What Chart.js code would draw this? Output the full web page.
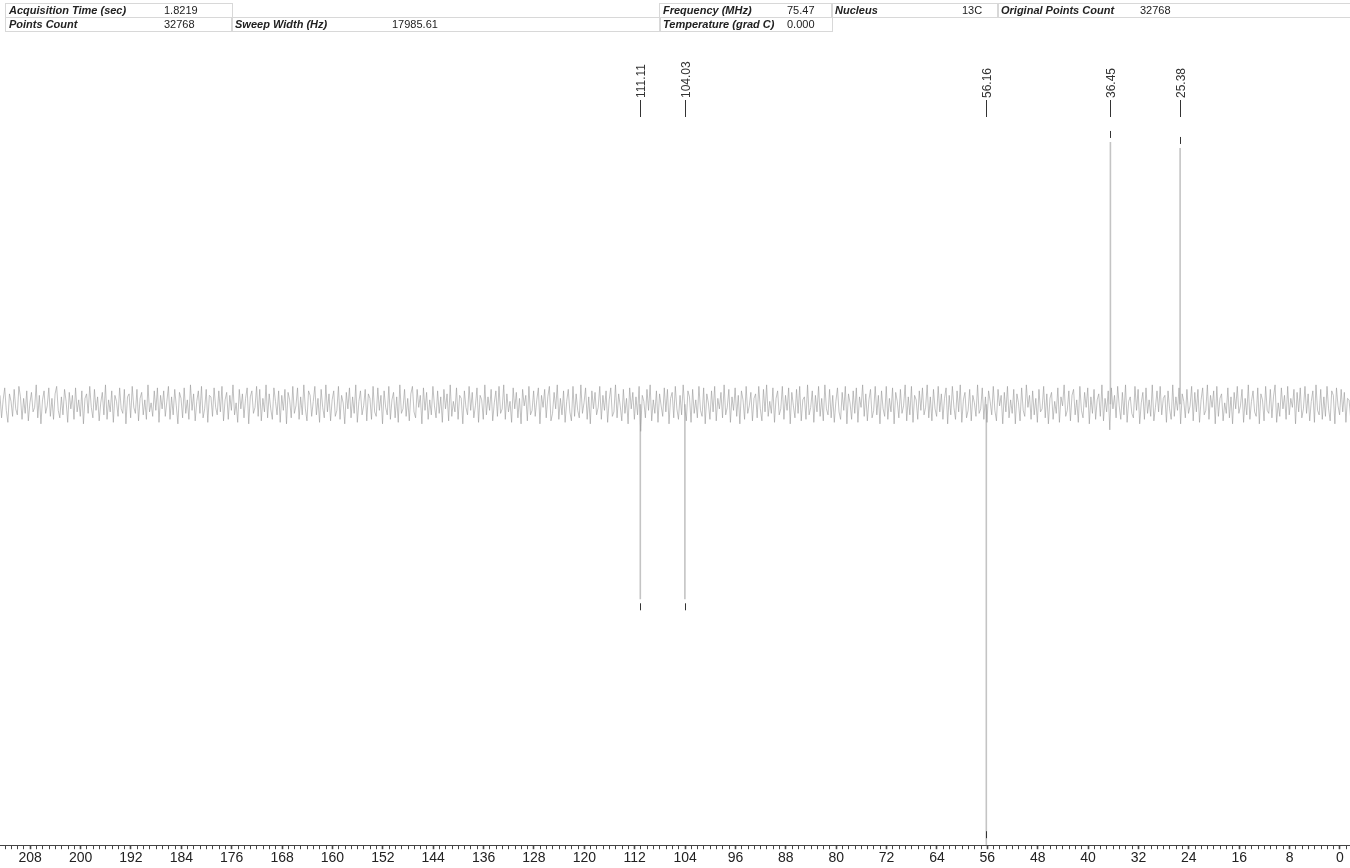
<!DOCTYPE html>
<html>
<head>
<meta charset="utf-8">
<script src="https://cdn.jsdelivr.net/npm/chart.js@4"></script>
<style>
  body { margin: 0; background: #fff; }
  #wrap { position: relative; width: 1350px; height: 868px; }
  .cell { position: absolute; height: 13px; border: 1px solid #d8d8d8; font: 11px "Liberation Sans", Arial, sans-serif; color: #222; }
  .cell b { position: absolute; left: 3px; top: 0; font-style: italic; }
  .cell span { position: absolute; top: 0; }
</style>
</head>
<body>
<div id="wrap">
  <canvas id="myChart" width="1350" height="868"></canvas>
  <div class="cell" style="left:5px;top:3px;width:226px"><b>Acquisition Time (sec)</b><span style="left:158px">1.8219</span></div>
  <div class="cell" style="left:5px;top:17px;width:226px"><b>Points Count</b><span style="left:158px">32768</span></div>
  <div class="cell" style="left:231px;top:17px;width:428px;border-left:1px solid #d8d8d8"><b>Sweep Width (Hz)</b><span style="left:160px">17985.61</span></div>
  <div class="cell" style="left:659px;top:3px;width:172px"><b>Frequency (MHz)</b><span style="left:127px">75.47</span></div>
  <div class="cell" style="left:831px;top:3px;width:166px"><b>Nucleus</b><span style="left:130px">13C</span></div>
  <div class="cell" style="left:997px;top:3px;width:352px"><b>Original Points Count</b><span style="left:142px">32768</span></div>
  <div class="cell" style="left:659px;top:17px;width:172px"><b>Temperature (grad C)</b><span style="left:127px">0.000</span></div>
</div>
<script>
// 13C DEPT-type spectrum, ppm axis runs right to left

const ppmMin = -1.6;
const ppmMax = 212.8;

// peaks: position (ppm), label and height (same units as noise)
const peakPpm = [111.11, 104.03, 56.16, 36.45, 25.38];
const peakLabels = ["111.11", "104.03", "56.16", "36.45", "25.38"];
const peakHeight = [-130, -130, -294, 175, 171];

// baseline noise, read along the spectrum from left (high ppm) to right
const noiseStep = 0.25;
const noise = [
  6,-9,3,11,-4,-12,7,2,-8,10,-3,-7,12,5,-10,4,-6,9,-11,1,
  8,-5,-2,13,-9,6,-13,3,9,-6,-1,11,-8,4,-10,7,12,-4,-9,5,
  -7,10,2,-12,8,-3,6,-10,11,-5,3,-8,9,-13,4,7,-6,12,-2,-9,
  10,-4,5,-11,1,8,-7,13,-10,3,-5,9,-12,6,2,-8,11,-3,-6,10,
  -13,5,7,-9,12,-2,-6,10,-11,4,8,-7,3,-10,13,-5,1,-8,9,-4,
  11,-12,6,-3,9,-8,2,12,-10,5,-7,10,-1,-13,8,4,-9,11,-6,3,
  -10,13,-4,7,-11,2,9,-6,12,-9,-3,10,-12,6,5,-8,11,-2,-7,9,
  -5,12,-11,3,8,-10,6,-4,13,-7,1,-12,10,-3,7,-9,4,11,-13,5,
  9,-6,-2,12,-8,10,-11,4,-5,13,-9,7,-3,-10,11,2,-7,9,-12,6,
  -4,10,-13,8,3,-9,12,-6,-1,11,-10,5,-7,13,-3,-11,9,6,-8,2,
  12,-7,4,-12,10,-2,-9,13,-5,7,-11,3,9,-8,-4,12,-10,6,1,-13,
  8,-3,11,-9,5,-6,13,-12,2,9,-7,-1,10,-11,7,4,-10,12,-5,-8,
  11,-4,6,-13,9,-2,-7,12,-10,3,8,-9,5,-12,13,-6,-3,10,-8,4,
  -11,7,12,-5,-9,10,-2,6,-13,11,-4,8,-10,3,-7,12,-1,-9,9,-6,
  5,-12,10,-3,7,-11,13,-8,2,-5,11,-10,6,4,-13,9,-2,-7,12,-4,
  8,-9,-1,11,-12,6,3,-10,13,-7,5,-4,10,-11,1,9,-8,12,-6,-3,
  13,-10,7,-5,2,-12,11,-3,8,-9,4,-13,10,-1,6,-11,12,-7,-4,9,
  -8,3,11,-13,6,-2,10,-9,5,12,-11,-6,8,-3,13,-10,4,-7,9,-12,
  2,10,-5,-11,12,-8,7,-4,-9,13,-6,1,11,-10,5,-13,9,-3,8,-7,
  -2,12,-10,6,-4,9,-12,3,11,-8,-5,13,-9,7,-1,-11,10,-6,4,-13,
  11,-3,8,-10,5,-7,12,-18,6,2,-9,10,-4,13,-11,3,-6,9,-12,7,
  -1,-8,11,-5,10,-13,4,8,-9,12,-3,-10,6,-7,13,-2,-11,9,5,-12,
  10,-6,3,-9,12,-4,-8,11,-13,7,1,-10,9,-5,12,-11,4,-3,8,-9,
  13,-7,-2,10,-12,5,-4,11,-8,6,-13,9,3,-10,12,-6,-1,8,-11,4,
  7,-9,12,-3,-11,10,-5,13,-8,2,-6,11,-12,4,9,-7,-3,12,-10,6,
  -4,11,-13,8,-1,-9,10,-6,12,-11,3,5,-10,13,-7,-2,9,-12,6,-5,
  12,-8,4,-11,13,-3,-7,10,-9,6,-12,2,11,-5,-10,8,-4,12,-13,7,
  1,-10,9,-6,11,-12,5,-2,13,-8,7,-11,3,10,-9,-4,12,-7,6,-13,
  9,-3,-8,12,-10,4,-5,11,-13,8,2,-9,10,-6,-1,13,-11,5,-7,12,
  -12,6,3,-10,9,-4,11,-7,-2,13,-9,5,-11,10,-3,-8,12,-5,7,-10,
  4,11,-13,6,-7,12,-2,-10,9,-5,13,-12,3,8,-9,-4,10,-11,6,1,
  -8,13,-6,-3,11,-10,5,-12,9,2,-7,12,-4,-11,10,-1,6,-13,8,-5,
  12,-9,3,-6,10,-13,7,1,-11,11,-4,-8,13,-2,6,-10,9,-7,4,-12,
  10,-5,-3,12,-9,7,-13,4,8,-10,2,-6,11,-12,5,-1,13,-8,-4,9,
  -11,6,10,-7,3,-12,12,-4,-9,8,-2,11,-13,5,-6,10,-10,3,7,-8,
  13,-11,4,-5,9,-17,11,-3,6,-9,12,-1,-10,8,-7,13,-12,2,5,-6,
  -9,12,-4,10,-13,1,8,-10,11,-6,3,-8,13,-11,-2,9,-5,12,-7,4,
  6,-12,9,-3,-10,13,-8,5,-4,11,-13,7,2,-9,10,-6,-1,12,-11,8,
  -5,10,-12,3,11,-7,-4,13,-10,6,-2,9,-13,12,-8,4,7,-11,1,-6,
  11,-9,5,-13,8,-3,12,-6,-1,10,-12,4,-7,13,-10,2,9,-5,-8,11,
  -13,7,3,-11,12,-4,-6,10,-9,5,13,-12,1,-8,11,-3,6,-10,12,-7,
  4,-2,10,-13,8,-5,11,-9,-3,12,-6,7,-11,2,9,-12,13,-4,-7,10,
  -10,5,-8,12,-3,-11,9,6,-13,11,-1,-7,10,-5,8,-12,4,3,-9,6
];

const noisePts = noise.map((v, i) => ({ x: ppmMax - i * noiseStep, y: v }));

const peakPts = [];
peakPpm.forEach((p, i) => {
  peakPts.push({ x: p, y: 0 }, { x: p, y: peakHeight[i] }, { x: p, y: null });
});

// labels above the spectrum + little marks at the peak tips
const peakMarks = {
  id: 'peakMarks',
  afterDraw(chart) {
    const ctx = chart.ctx;
    const xs = chart.scales.x, ys = chart.scales.y;
    const area = chart.chartArea;
    ctx.save();
    ctx.strokeStyle = '#333';
    ctx.fillStyle = '#333';
    ctx.lineWidth = 1;
    ctx.font = '12px "Liberation Sans", Arial, sans-serif';
    peakPpm.forEach((p, i) => {
      const px = Math.round(xs.getPixelForValue(p)) + 0.5;
      // leader + rotated text
      ctx.beginPath();
      ctx.moveTo(px, 100);
      ctx.lineTo(px, 117);
      ctx.stroke();
      ctx.save();
      ctx.translate(px + 4, 98);
      ctx.rotate(-Math.PI / 2);
      ctx.textAlign = 'left';
      ctx.fillText(peakLabels[i], 0, 0);
      ctx.restore();
      // tip mark
      const tip = ys.getPixelForValue(peakHeight[i]);
      let y0, y1;
      if (peakHeight[i] > 0) { y0 = tip - 11; y1 = tip - 4; }
      else { y0 = Math.min(tip + 4, area.bottom - 14); y1 = y0 + 7; }
      ctx.beginPath();
      ctx.moveTo(px, y0);
      ctx.lineTo(px, y1);
      ctx.stroke();
    });
    ctx.restore();
  }
};

var ctx = document.getElementById('myChart').getContext('2d');

var chart = new Chart(ctx, {
    type: 'line',
    data: {
        datasets: [{
            data: noisePts,
            borderColor: '#999999',
            borderWidth: 0.6,
            pointRadius: 0,
        }, {
            data: peakPts,
            borderColor: '#c4c4c4',
            borderWidth: 1.6,
            pointRadius: 0,
            spanGaps: false,
        }]
    },
    options: {
        responsive: false,
        animation: false,
        layout: {
            padding: { top: 40, left: 0, right: 0, bottom: 0 }
        },
        plugins: {
            legend: { display: false },
            tooltip: { enabled: false }
        },
        scales: {
            x: {
                type: 'linear',
                reverse: true,
                min: ppmMin,
                max: ppmMax,
                border: { display: true, color: '#444', width: 1 },
                grid: {
                    drawOnChartArea: false,
                    tickLength: 4,
                    tickColor: '#444',
                    tickWidth: (c) => (c.tick && c.tick.value % 8 === 0 ? 1.6 : 1)
                },
                ticks: {
                    stepSize: 1,
                    autoSkip: false,
                    includeBounds: false,
                    maxRotation: 0,
                    padding: 1,
                    color: '#222',
                    font: { family: '"Liberation Sans", Arial, sans-serif', size: 14 },
                    callback: (v) => (v % 8 === 0 ? String(v) : '')
                }
            },
            y: {
                display: false,
                min: -294,
                max: 243
            }
        }
    },
    plugins: [peakMarks],
});
</script>
</body>
</html>
